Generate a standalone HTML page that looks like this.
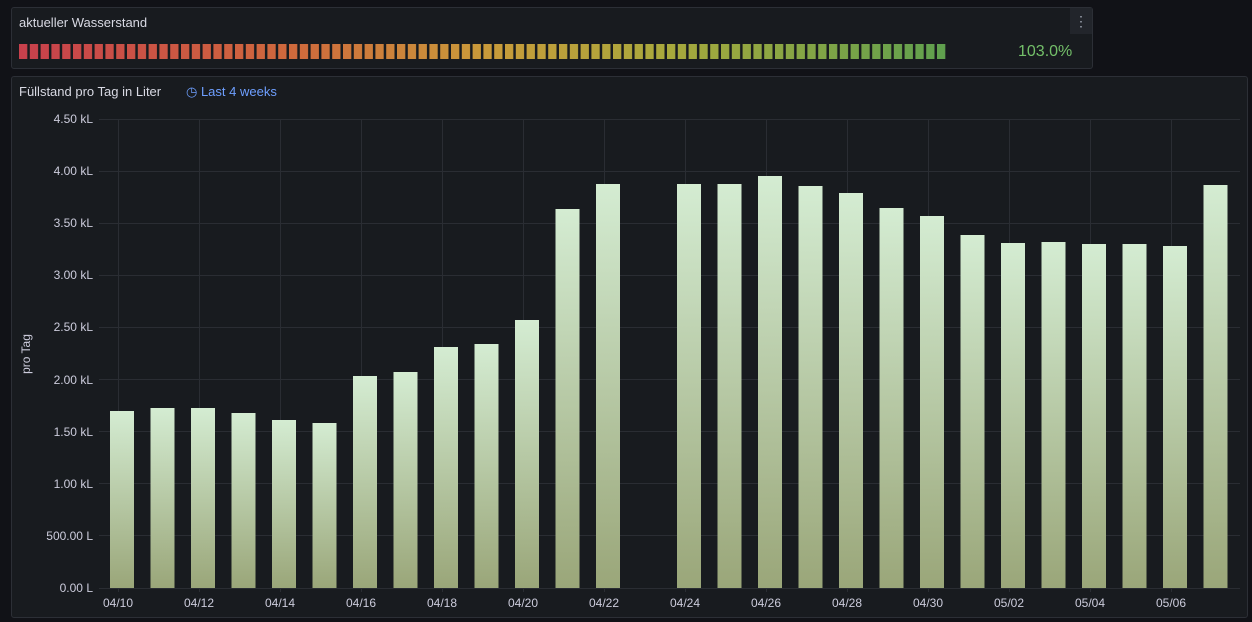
<!DOCTYPE html>
<html><head><meta charset="utf-8"><style>
body{margin:0;background:#111217;width:1252px;height:622px;overflow:hidden;font-family:"Liberation Sans",sans-serif}
.p{position:absolute;background:#181b1f;border:1px solid #2c2f36;border-radius:3px;box-sizing:border-box}
</style></head><body>
<div class="p" style="left:11px;top:7px;width:1082px;height:62px">
<div style="position:absolute;left:7px;top:7px;color:#d8d9e3;font-size:13px">aktueller Wasserstand</div>
<div style="position:absolute;right:0;top:0;width:22px;height:26px;background:#22252b;color:#9fa7b3;font-size:14px;text-align:center;line-height:26px">⋮</div>
<div style="position:absolute;left:1006px;top:35px;color:#73bf69;font-size:16px">103.0%</div>
</div>
<svg style="position:absolute;left:0;top:0" width="1252" height="622">
<defs>
<linearGradient id="gg" x1="19" x2="946" y1="0" y2="0" gradientUnits="userSpaceOnUse">
<stop offset="0" stop-color="#c8404c"/><stop offset="0.3" stop-color="#cf6a3c"/><stop offset="0.5" stop-color="#c99a3a"/><stop offset="0.7" stop-color="#a8a93c"/><stop offset="1" stop-color="#5fa04e"/>
</linearGradient>
<pattern id="cells" x="19" y="0" width="10.8" height="30" patternUnits="userSpaceOnUse"><rect x="0" y="0" width="8.3" height="30" rx="1.5" fill="#fff"/></pattern>
<mask id="m"><rect x="19" y="44" width="928" height="15" fill="url(#cells)"/></mask>
<linearGradient id="bg" x1="0" y1="0" x2="0" y2="1"><stop offset="0" stop-color="#d4ecd2"/><stop offset="1" stop-color="#9aa679"/></linearGradient>
</defs>
<rect x="19" y="44" width="928" height="15" fill="url(#gg)" mask="url(#m)"/>
</svg>
<div class="p" style="left:11px;top:76px;width:1237px;height:542px">
<div style="position:absolute;left:7px;top:7px;color:#d8d9e3;font-size:13px">Füllstand pro Tag in Liter</div>
<div style="position:absolute;left:174px;top:7px;color:#6e9fff;font-size:13px">◷ Last 4 weeks</div>
</div>
<svg style="position:absolute;left:0;top:0" width="1252" height="622" font-family="Liberation Sans, sans-serif" font-size="12" fill="#ccccdc">
<g stroke="#2a2d33" stroke-width="1">
<line x1="99" x2="1240" y1="119.5" y2="119.5"/><line x1="99" x2="1240" y1="171.5" y2="171.5"/><line x1="99" x2="1240" y1="223.5" y2="223.5"/><line x1="99" x2="1240" y1="275.5" y2="275.5"/><line x1="99" x2="1240" y1="327.5" y2="327.5"/><line x1="99" x2="1240" y1="379.5" y2="379.5"/><line x1="99" x2="1240" y1="431.5" y2="431.5"/><line x1="99" x2="1240" y1="483.5" y2="483.5"/><line x1="99" x2="1240" y1="535.5" y2="535.5"/><line x1="99" x2="1240" y1="588.5" y2="588.5"/>
<line x1="118.5" x2="118.5" y1="119" y2="592"/><line x1="199.5" x2="199.5" y1="119" y2="592"/><line x1="280.5" x2="280.5" y1="119" y2="592"/><line x1="361.5" x2="361.5" y1="119" y2="592"/><line x1="442.5" x2="442.5" y1="119" y2="592"/><line x1="523.5" x2="523.5" y1="119" y2="592"/><line x1="604.5" x2="604.5" y1="119" y2="592"/><line x1="685.5" x2="685.5" y1="119" y2="592"/><line x1="766.5" x2="766.5" y1="119" y2="592"/><line x1="847.5" x2="847.5" y1="119" y2="592"/><line x1="928.5" x2="928.5" y1="119" y2="592"/><line x1="1009.5" x2="1009.5" y1="119" y2="592"/><line x1="1090.5" x2="1090.5" y1="119" y2="592"/><line x1="1171.5" x2="1171.5" y1="119" y2="592"/>
</g>
<g text-anchor="end">
<text x="93" y="123">4.50 kL</text><text x="93" y="175">4.00 kL</text><text x="93" y="227">3.50 kL</text><text x="93" y="279">3.00 kL</text><text x="93" y="331">2.50 kL</text><text x="93" y="384">2.00 kL</text><text x="93" y="436">1.50 kL</text><text x="93" y="488">1.00 kL</text><text x="93" y="540">500.00 L</text><text x="93" y="592">0.00 L</text>
</g>
<text transform="translate(30,354) rotate(-90)" text-anchor="middle">pro Tag</text>
<g text-anchor="middle">
<text x="118" y="607">04/10</text><text x="199" y="607">04/12</text><text x="280" y="607">04/14</text><text x="361" y="607">04/16</text><text x="442" y="607">04/18</text><text x="523" y="607">04/20</text><text x="604" y="607">04/22</text><text x="685" y="607">04/24</text><text x="766" y="607">04/26</text><text x="847" y="607">04/28</text><text x="928" y="607">04/30</text><text x="1009" y="607">05/02</text><text x="1090" y="607">05/04</text><text x="1171" y="607">05/06</text>
</g>
<g fill="url(#bg)">
<rect x="110" y="411" width="24" height="177"/><rect x="150.5" y="408" width="24" height="180"/><rect x="191" y="408" width="24" height="180"/><rect x="231.5" y="413" width="24" height="175"/><rect x="272" y="420" width="24" height="168"/><rect x="312.5" y="423" width="24" height="165"/><rect x="353" y="376" width="24" height="212"/><rect x="393.5" y="372" width="24" height="216"/><rect x="434" y="347" width="24" height="241"/><rect x="474.5" y="344" width="24" height="244"/><rect x="515" y="320" width="24" height="268"/><rect x="555.5" y="209" width="24" height="379"/><rect x="596" y="184" width="24" height="404"/>
<rect x="677" y="184" width="24" height="404"/><rect x="717.5" y="184" width="24" height="404"/><rect x="758" y="176" width="24" height="412"/><rect x="798.5" y="186" width="24" height="402"/><rect x="839" y="193" width="24" height="395"/><rect x="879.5" y="208" width="24" height="380"/><rect x="920" y="216" width="24" height="372"/><rect x="960.5" y="235" width="24" height="353"/><rect x="1001" y="243" width="24" height="345"/><rect x="1041.5" y="242" width="24" height="346"/><rect x="1082" y="244" width="24" height="344"/><rect x="1122.5" y="244" width="24" height="344"/><rect x="1163" y="246" width="24" height="342"/><rect x="1203.5" y="185" width="24" height="403"/>
</g>
</svg>
</body></html>
